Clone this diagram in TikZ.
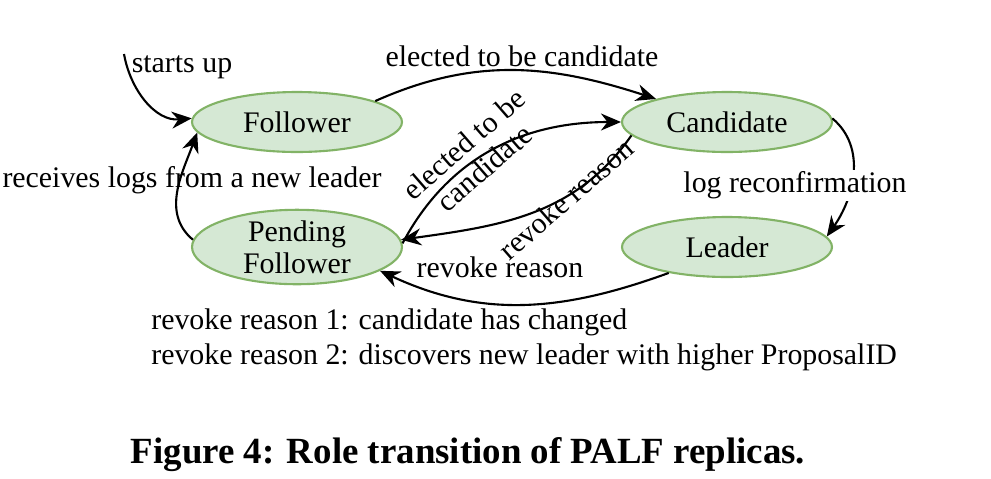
\documentclass[tikz,border=0pt]{standalone}
\usepackage{fontspec}
\setmainfont{Liberation Serif}
\usepackage{xcolor}
\usepackage{tikz}
\usetikzlibrary{positioning,arrows.meta,shapes.geometric}

\definecolor{stfill}{HTML}{D5E8D4}
\definecolor{stline}{HTML}{82B366}

\begin{document}
\begin{tikzpicture}[
  x=0.02cm, y=0.02cm,
  font=\fontsize{17}{18}\selectfont,
  state/.style = {ellipse, draw=stline, fill=stfill, line width=1.2pt,
                  minimum width=4.2cm, minimum height=1.2cm, inner sep=0pt,
                  align=center},
  trans/.style = {-{Stealth[length=4mm,width=3.4mm]}, line width=1.2pt},
  lbl/.style   = {inner sep=1pt},
]
\useasboundingbox (0,0) rectangle (991,-478);

% ---------- states ----------
\node[state] (fol)  at (297,-122) {Follower};
\node[state] (cand) at (727,-122) {Candidate};
\node[state] (pend) at (297,-247) {Pending\\Follower};
\node[state] (lead) at (727,-247) {Leader};

% ---------- transitions ----------
\coordinate (boot) at (124,-54);
\draw[trans] (boot) to[out=-80, in=185] (fol.178);
\node[lbl] (bootlbl) at (182,-67) {starts up};

\draw[trans] (pend.176) to[out=140, in=-110] (fol.186);
\node[lbl] (recv) at (192,-180) {receives logs from a new leader};

\draw[trans] (fol.15) to[out=24, in=162] (cand.162);
\node[lbl] (elect) at (522,-56) {elected to be candidate};

\draw[trans] (pend.2) to[out=62, in=180] (cand.180);
\node[lbl, rotate=41, align=center] (elect2) at (474,-156) {elected to be\\candidate};

\draw[trans] (cand.188) to[out=-125, in=8] (pend.4);
\node[lbl, rotate=41] (rev1) at (566,-199) {revoke reason};

\draw[trans] (lead.204) to[out=-160, in=-25] (pend.-16);
\node[lbl] (rev2) at (500,-267) {revoke reason};

\draw[trans] (cand.2) to[out=-40, in=55] (lead.6);
\node[lbl, fill=white] (logrec) at (795,-185) {log reconfirmation};

% ---------- notes ----------
\node[anchor=west, inner sep=0pt] (note1) at (151,-322) {revoke reason 1: candidate has changed};
\node[anchor=west, inner sep=0pt] (note2) at (151,-357) {revoke reason 2: discovers new leader with higher ProposalID};

\node[font=\fontsize{21}{23}\selectfont\bfseries] (caption) at (468,-455)
      {Figure 4: Role transition of PALF replicas.};

\end{tikzpicture}
\end{document}
